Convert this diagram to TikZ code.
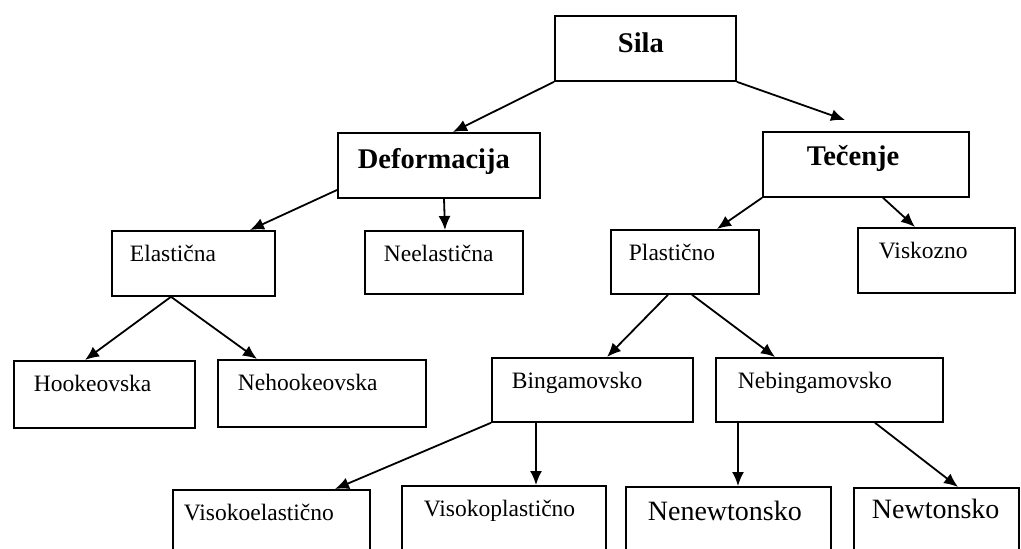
\documentclass[tikz,border=0pt]{standalone}
\usepackage{fontspec}
\setmainfont{Liberation Serif}
\usetikzlibrary{arrows.meta,calc}

\tikzset{
  box/.style={draw, line width=0.9pt, anchor=north west, inner ysep=0pt, inner xsep=10pt,
    align=left, text height=15.5pt, font=\fontsize{11.75}{14}\selectfont},
  title/.style={box, font=\fontsize{14.25}{17}\selectfont\bfseries},
  big/.style={box, font=\fontsize{14}{17}\selectfont}
}

\begin{document}
\begin{tikzpicture}[x=0.5pt,y=-0.5pt,>={Latex[length=7pt,width=6pt]},line width=0.9pt]
  \useasboundingbox (0,0) rectangle (1021,549);

  % top levels
  \node[title, inner xsep=31.5pt, text width=27.5pt, text height=18.5pt, text depth=14pt] (sila) at (554,15) {Sila};
  \node[title, text width=81pt, text height=18pt, text depth=14.5pt] (def) at (337,132) {Deformacija};
  \node[title, inner xsep=22pt, text width=59pt, text height=17pt, text depth=15.5pt] (tec) at (762,131) {Tečenje};

  \node[box, inner xsep=9pt, text width=63.5pt, text depth=17pt] (ela) at (111,230) {Elastična};
  \node[box, inner xsep=9.5pt, text width=60pt, text depth=16pt] (neel) at (364,230) {Neelastična};
  \node[box, inner xsep=9pt, text width=56pt, text depth=16.5pt] (plast) at (610,229) {Plastično};
  \node[box, inner xsep=10.5pt, text width=57.5pt, text depth=17pt] (visk) at (857,227) {Viskozno};

  \node[box, text width=70.5pt, text depth=18pt] (hook) at (13,360) {Hookeovska};
  \node[box, text width=84pt, text depth=18pt] (nehook) at (217,359) {Nehookeovska};
  \node[box, text width=80.5pt, text depth=16.5pt] (bing) at (491,357) {Bingamovsko};
  \node[box, inner xsep=11pt, text width=91.5pt, text depth=16.5pt] (nebing) at (715,357) {Nebingamovsko};

  % bottom row, cut by the page edge
  \node[box, inner xsep=5.5pt, text width=87.5pt, text depth=16pt] (viskel) at (172,489) {Visokoelastično};
  \node[box, inner xsep=11pt, text width=80pt, text depth=18pt] (viskpl) at (401,485) {Visokoplastično};
  \node[big, inner xsep=11pt, text width=80.5pt, text height=17pt, text depth=16pt] (nenewt) at (625,486) {Nenewtonsko};
  \node[big, inner xsep=9pt, text width=64.5pt, text depth=17pt] (newt) at (853,487) {Newtonsko};

  % arrows
  \draw[->] (sila.south west) -- ($(def.north west)+(116,0)$);
  \draw[->] (sila.south east) -- ($(tec.north west)+(83,-11)$);
  \draw[->] ($(def.north west)+(0,58)$) -- ($(ela.north west)+(139,0)$);
  \draw[->] ($(def.south west)+(107,0)$) -- ($(neel.north west)+(81,0)$);
  \draw[->] (tec.south west) -- ($(plast.north west)+(107,0)$);
  \draw[->] ($(tec.south west)+(121,0)$) -- ($(visk.north west)+(58,0)$);

  \draw[->] ($(ela.south west)+(60,0)$) -- ($(hook.north west)+(72,0)$);
  \draw[->] ($(ela.south west)+(60,0)$) -- ($(nehook.north west)+(40,0)$);
  \draw[->] ($(plast.south west)+(58,0)$) -- ($(bing.north west)+(116,0)$);
  \draw[->] ($(plast.south west)+(82,0)$) -- ($(nebing.north west)+(60,0)$);

  \draw[->] (bing.south west) -- ($(viskel.north west)+(163,0)$);
  \draw[->] ($(bing.south west)+(45,0)$) -- ($(viskpl.north west)+(135,0)$);
  \draw[->] ($(nebing.south west)+(23,0)$) -- ($(nenewt.north west)+(113,0)$);
  \draw[->] ($(nebing.south west)+(160,0)$) -- ($(newt.north west)+(105,0)$);
\end{tikzpicture}
\end{document}
